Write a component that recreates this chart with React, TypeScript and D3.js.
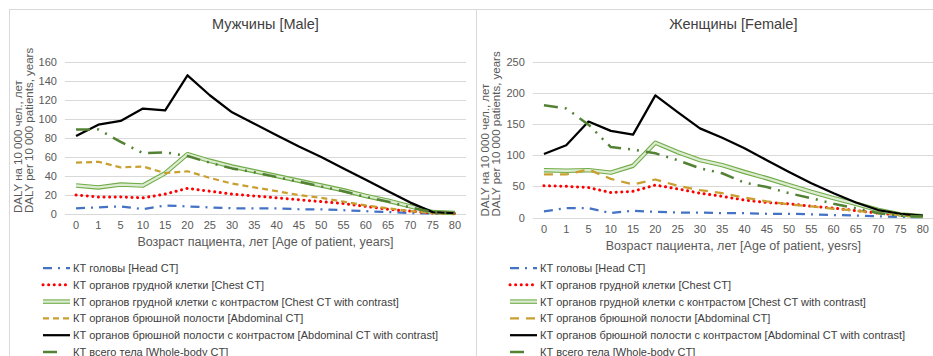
import React from 'react';
import * as d3 from 'd3';

const ages = ['0', '1', '5', '10', '15', '20', '25', '30', '35', '40', '45', '50', '55', '60', '65', '70', '75', '80'];

const seriesNames = [
  'КТ головы [Head CT]',
  'КТ органов грудной клетки [Chest CT]',
  'КТ органов грудной клетки с контрастом [Chest CT with  contrast]',
  'КТ органов брюшной полости [Abdominal  CT]',
  'КТ органов брюшной полости с контрастом [Abdominal  CT with contrast]',
  'КТ всего тела [Whole-body CT]',
];

// Мужчины [Male]
const maleHead = [6, 7, 8, 5, 9, 8, 7, 6, 6, 6, 5, 5, 4, 3, 2, 1, 0.5, 0.3];
const maleChest = [20, 18, 18, 17, 21, 27, 24, 21, 19, 17, 15, 13, 11, 8, 5, 3, 1, 0.5];
const maleChestContrast = [30, 28, 31, 30, 43, 63, 56, 50, 45, 40, 35, 30, 25, 19, 14, 8, 2, 1];
const maleAbd = [54, 55, 49, 50, 43, 45, 38, 32, 28, 24, 20, 17, 13, 9, 6, 3, 1, 0.5];
const maleAbdContrast = [82, 94, 98, 111, 109, 146, 125, 107, 95, 83, 71, 60, 48, 36, 24, 12, 2, 1];
const maleWhole = [89, 89, 76, 64, 65, 61, 54, 48, 44, 39, 34, 29, 24, 18, 13, 7, 2, 1];
const maleTicks = [0, 20, 40, 60, 80, 100, 120, 140, 160];

// Женщины [Female]
const femaleHead = [10, 15, 15, 7, 11, 9, 8, 8, 7, 7, 6, 6, 5, 4, 3, 2, 1, 0.5];
const femaleChest = [51, 50, 48, 40, 42, 52, 46, 39, 34, 28, 24, 22, 18, 15, 11, 7, 4, 1.5];
const femaleChestContrast = [76, 75, 76, 72, 83, 120, 105, 92, 84, 73, 63, 52, 41, 31, 22, 12, 5, 2];
const femaleAbd = [69, 69, 77, 62, 53, 61, 51, 44, 39, 32, 26, 21, 18, 14, 11, 7, 4, 1.5];
const femaleAbdContrast = [102, 116, 154, 139, 133, 196, 169, 143, 128, 111, 92, 73, 55, 39, 24, 12, 6, 3];
const femaleWhole = [180, 175, 149, 113, 109, 103, 92, 79, 71, 56, 49, 39, 31, 22, 15, 7, 3, 1.5];
const femaleTicks = [0, 50, 100, 150, 200, 250];

type Style = { color: string; width: number; dash?: string; cap?: 'round' | 'butt'; double?: boolean };

const maleStyles: Style[] = [
  { color: '#4472C4', width: 2.25, dash: '9,6,2,6' },
  { color: '#FF0000', width: 3, dash: '0.1,5.5', cap: 'round' },
  { color: '#70AD47', width: 4.5, double: true },
  { color: '#C9A030', width: 2.25, dash: '6,4' },
  { color: '#000000', width: 2.25 },
  { color: '#548235', width: 2.5, dash: '14,7,2,7,2,7' },
];
const femaleStyles: Style[] = maleStyles.map((s, i) =>
  i === 3 ? { ...s, dash: '9,7' } : s);

type PanelProps = {
  title: string;
  xTitle: string;
  data: number[][];
  ticks: number[];
  styles: Style[];
  left: number;
  x0: number;
  x1: number;
  yBottom: number;
  yTop: number;
};

const font = '"Liberation Sans", Arial, sans-serif';

function Panel(p: PanelProps) {
  const x = d3.scalePoint<string>().domain(ages).range([p.x0, p.x1]).padding(0.5);
  const y = d3.scaleLinear().domain([0, d3.max(p.ticks) as number]).range([p.yBottom, p.yTop]);
  const line = d3.line<number>().x((_, i) => x(ages[i]) as number).y((d) => y(d));
  const mid = (p.x0 + p.x1) / 2;
  const legX = p.left + 34;

  const drawPath = (d: string, s: Style, key: string) => {
    if (s.double) {
      return (
        <g key={key}>
          <path d={d} fill="none" stroke={s.color} strokeWidth={s.width} strokeLinejoin="round" />
          <path d={d} fill="none" stroke="#DDEBD3" strokeWidth={s.width - 2.2} strokeLinejoin="round" />
        </g>
      );
    }
    return (
      <path key={key} d={d} fill="none" stroke={s.color} strokeWidth={s.width}
        strokeDasharray={s.dash} strokeLinecap={s.cap || 'butt'} strokeLinejoin="round" />
    );
  };

  return (
    <g>
      <rect x={p.left + 0.5} y={9.5} width={467} height={360} fill="#fff" stroke="#D9D9D9" strokeWidth={1} />
      <text x={mid} y={29} textAnchor="middle" fontSize={14.5} fill="#404040" fontFamily={font}>{p.title}</text>
      {p.ticks.map((t) => (
        <g key={t}>
          <line x1={p.x0} x2={p.x1} y1={Math.round(y(t)) + 0.5} y2={Math.round(y(t)) + 0.5} stroke="#D9D9D9" strokeWidth={1} />
          <text x={p.x0 - 8} y={y(t) + 4} textAnchor="end" fontSize={11} fill="#595959" fontFamily={font}>{t}</text>
        </g>
      ))}
      {ages.map((a) => (
        <text key={a} x={x(a)} y={p.yBottom + 15} textAnchor="middle" fontSize={11} fill="#595959" fontFamily={font}>{a}</text>
      ))}
      <text x={mid} y={p.yBottom + 32} textAnchor="middle" fontSize={12.5} fill="#595959" fontFamily={font}>{p.xTitle}</text>
      <text transform={`translate(${p.left + 13},${p.yBottom - 1}) rotate(-90)`} fontSize={11.5} fill="#595959" fontFamily={font}>
        DALY на 10 000 чел., лет
      </text>
      <text transform={`translate(${p.left + 24},${p.yBottom - 1}) rotate(-90)`} fontSize={11.5} fill="#595959" fontFamily={font}>
        DALY per 10 000 patients, years
      </text>
      {p.data.map((vals, i) => drawPath(line(vals) as string, p.styles[i], 's' + i))}
      {seriesNames.map((n, i) => {
        const ly = 268 + i * 16.8;
        const s = p.styles[i];
        const d = `M${legX},${ly}L${legX + 27},${ly}`;
        return (
          <g key={n}>
            {drawPath(d, i === 5 ? { ...s, dash: '14,40' } : s, 'l' + i)}
            <text x={legX + 30} y={ly + 4} fontSize={11} fill="#404040" fontFamily={font}>{n}</text>
          </g>
        );
      })}
    </g>
  );
}

export default function App() {
  return (
    <svg width={933} height={356} style={{ position: 'absolute', left: 0, top: 0, background: '#fff' }}>
      <Panel
        title="Мужчины [Male]"
        xTitle="Возраст пациента, лет [Age of patient, years]"
        data={[maleHead, maleChest, maleChestContrast, maleAbd, maleAbdContrast, maleWhole]}
        ticks={maleTicks}
        styles={maleStyles}
        left={9}
        x0={64.9}
        x1={466.1}
        yBottom={214}
        yTop={62}
      />
      <Panel
        title="Женщины [Female]"
        xTitle="Возраст пациента, лет [Age of patient, yesrs]"
        data={[femaleHead, femaleChest, femaleChestContrast, femaleAbd, femaleAbdContrast, femaleWhole]}
        ticks={femaleTicks}
        styles={femaleStyles}
        left={476}
        x0={532.8}
        x1={933.9}
        yBottom={217.5}
        yTop={61.7}
      />
    </svg>
  );
}
